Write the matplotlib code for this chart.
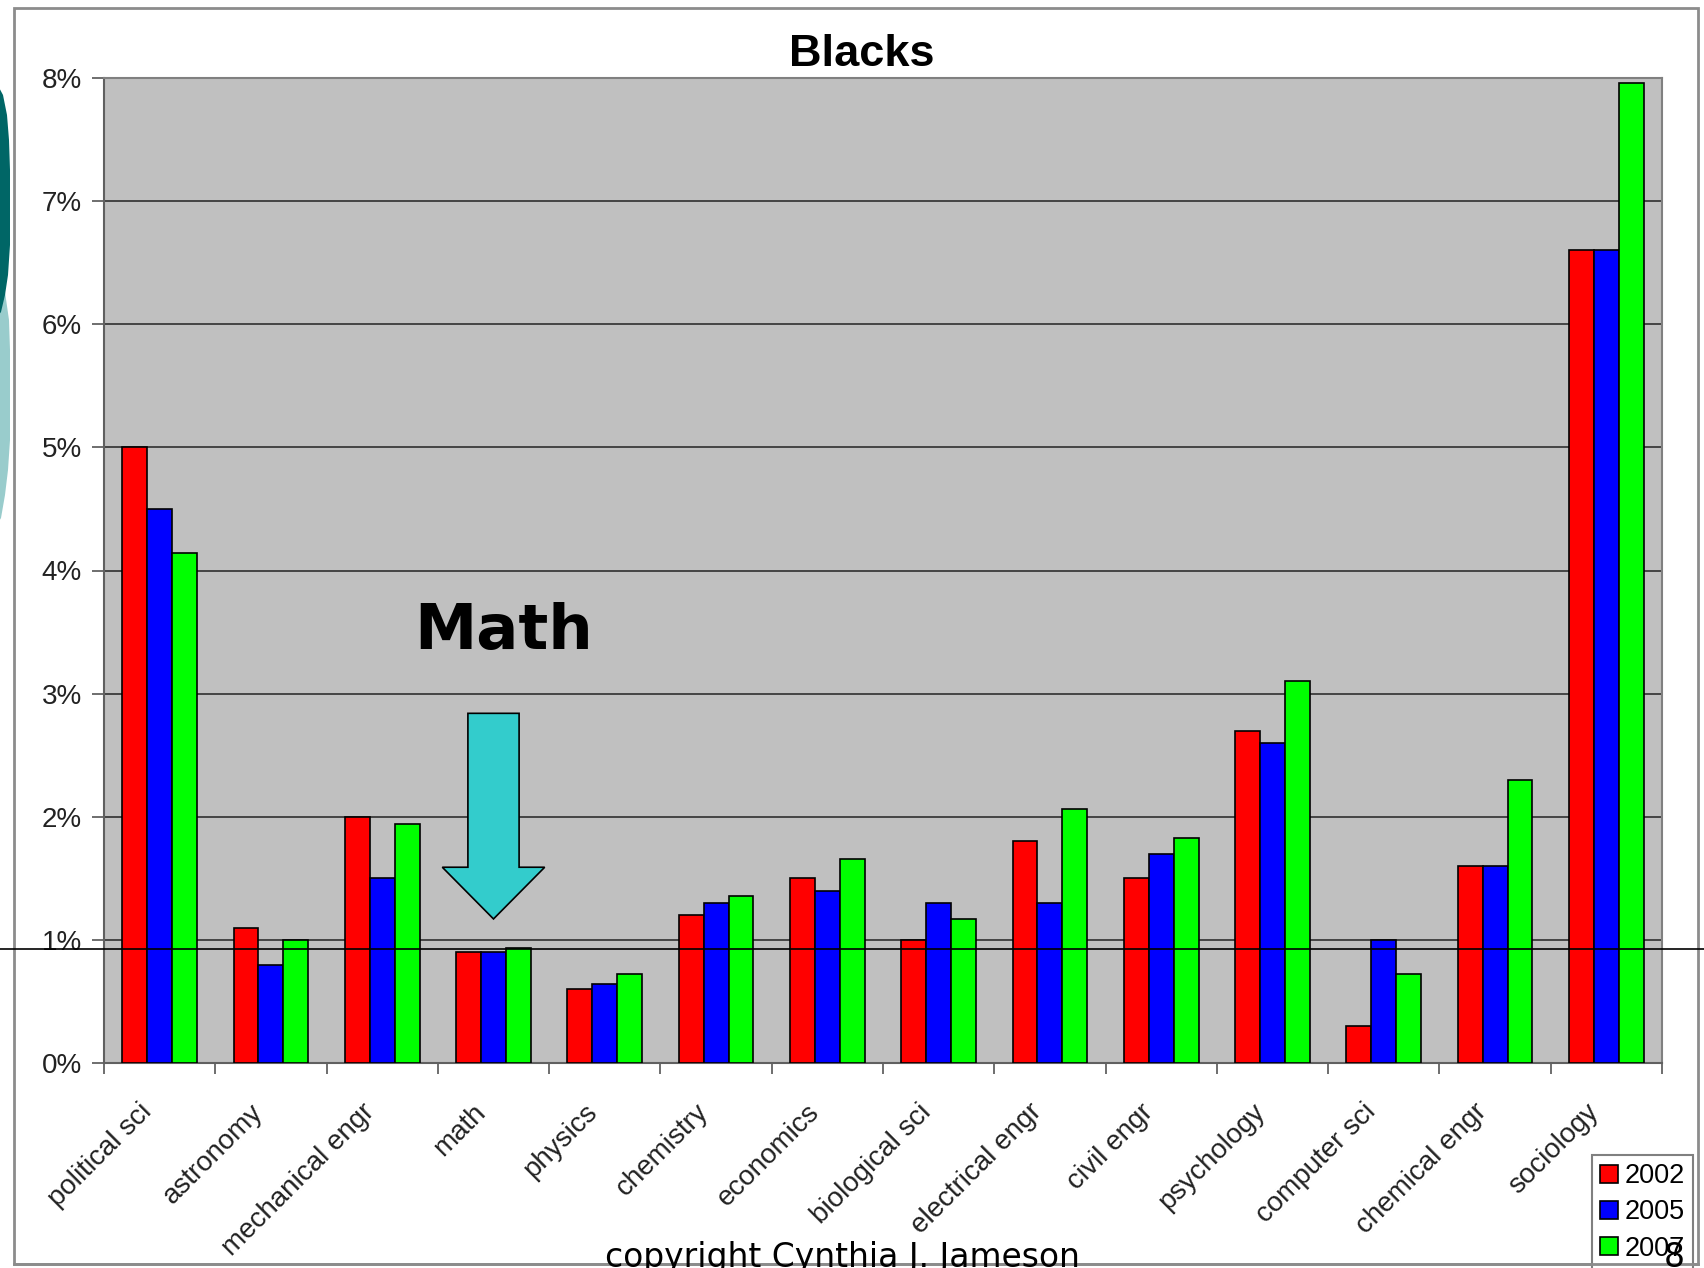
import numpy as np
import matplotlib
matplotlib.use('Agg')
import matplotlib.pyplot as plt
from matplotlib.patches import Rectangle, Polygon, Patch
from matplotlib.ticker import FuncFormatter, FixedLocator
from matplotlib.transforms import ScaledTranslation

# 各学科黑人学生比例 (%)
fields = ['political sci', 'astronomy', 'mechanical engr', 'math', 'physics',
          'chemistry', 'economics', 'biological sci', 'electrical engr',
          'civil engr', 'psychology', 'computer sci', 'chemical engr', 'sociology']
years = ['2002', '2005', '2007']
pct_2002 = [5.0, 1.1, 2.0, 0.9, 0.6, 1.2, 1.5, 1.0, 1.8, 1.5, 2.7, 0.3, 1.6, 6.6]
pct_2005 = [4.5, 0.8, 1.5, 0.9, 0.64, 1.3, 1.4, 1.3, 1.3, 1.7, 2.6, 1.0, 1.6, 6.6]
pct_2007 = [4.14, 1.0, 1.94, 0.93, 0.72, 1.36, 1.66, 1.17, 2.06, 1.83, 3.1, 0.72, 2.3, 7.96]
bar_colors = ['#ff0000', '#0000ff', '#00ff00']

W, H = 1704, 1268
plt.rcParams['font.family'] = ['Liberation Sans', 'DejaVu Sans']

fig = plt.figure(figsize=(W / 100, H / 100), dpi=100)

# 背景层: 幻灯片左侧装饰和图表外框
bg = fig.add_axes([0, 0, 1, 1], zorder=0)
bg.set_xlim(0, W)
bg.set_ylim(H, 0)
bg.axis('off')
bg.add_patch(Polygon([(-5, 268), (5, 292), (9, 320), (10, 350), (10, 440), (8, 470),
                      (5, 495), (1, 518), (-5, 528)], color='#99cccc', lw=0))
bg.add_patch(Polygon([(-5, 80), (3, 95), (7, 115), (9, 140), (10, 170), (10, 245),
                      (8, 275), (5, 295), (1, 312), (-5, 320)], color='#006666', lw=0))
bg.add_patch(Rectangle((14, 8), 1684, 1256, facecolor='white',
                       edgecolor='#8c8c8c', lw=2))

# 主图
ax = fig.add_axes([104 / W, 1 - 1063 / H, (1662 - 104) / W, (1063 - 78) / H], zorder=1)
ax.set_facecolor('#c0c0c0')
x = np.arange(len(fields))
bw = 0.224
for i, (vals, c) in enumerate(zip([pct_2002, pct_2005, pct_2007], bar_colors)):
    ax.bar(x + (i - 1) * bw, vals, width=bw, color=c, edgecolor='black',
           linewidth=1.2, label=years[i], zorder=3)

ax.set_xlim(-0.5, len(fields) - 0.5)
ax.set_ylim(0, 8)
ax.yaxis.set_major_locator(FixedLocator(range(0, 9)))
ax.yaxis.set_major_formatter(FuncFormatter(lambda v, p: '%d%%' % v))
ax.grid(axis='y', color='#3a3a3a', linewidth=1.3, zorder=1)
ax.set_axisbelow(True)

# 分类标签放在各组中心, 刻度线放在组与组之间
ax.set_xticks(np.arange(-0.5, len(fields)))
ax.set_xticklabels([])
ax.tick_params(axis='x', length=8, width=1.2, color='#555555')
lbl_off = ax.get_xaxis_transform() + ScaledTranslation(-21 / 100, -36 / 100, fig.dpi_scale_trans)
for i, name in enumerate(fields):
    ax.text(i, 0, name, transform=lbl_off, rotation=45, rotation_mode='anchor',
            ha='right', va='top', fontsize=20, color='#222222', clip_on=False)

ax.tick_params(axis='y', length=9, width=1.2, color='#555555',
               labelsize=20, labelcolor='#222222', pad=7)
for s in ax.spines.values():
    s.set_color('#808080')
    s.set_linewidth(1.5)
ax.spines['left'].set_color('#606060')
ax.spines['bottom'].set_color('#606060')

# Math 标注箭头
ax.add_patch(Polygon([(2.77, 2.84), (3.23, 2.84), (3.23, 1.59), (3.46, 1.59),
                      (3.0, 1.17), (2.54, 1.59), (2.77, 1.59)],
                     closed=True, facecolor='#33cccc', edgecolor='black',
                     lw=1.2, zorder=5))
ax.text(3.09, 3.5, 'Math', fontsize=45, fontweight='bold',
        family='DejaVu Sans', ha='center', va='center', zorder=5)

fig.text(862 / W, 1 - 54 / H, 'Blacks', fontsize=32.5, fontweight='bold',
         ha='center', va='center')

handles = [Patch(facecolor=c, edgecolor='black', lw=1.2) for c in bar_colors]
leg = fig.legend(handles, years, loc='upper left',
                 bbox_to_anchor=(1592 / W, 1 - 1155 / H), bbox_transform=fig.transFigure,
                 fontsize=19.5, frameon=True, fancybox=False, edgecolor='#606060',
                 handlelength=0.65, handleheight=0.65, handletextpad=0.25,
                 labelspacing=0.38, borderpad=0.3, borderaxespad=0)
leg.get_frame().set_linewidth(1.5)
leg.set_zorder(6)

# 前景层: 页脚文字和横线
fg = fig.add_axes([0, 0, 1, 1], zorder=7)
fg.set_xlim(0, W)
fg.set_ylim(H, 0)
fg.axis('off')
fg.patch.set_alpha(0)
fg.text(842, 1267, 'copyright Cynthia J. Jameson', family='DejaVu Sans',
        fontsize=23.7, ha='center', va='baseline', clip_on=False)
fg.text(1674, 1267, '8', family='DejaVu Sans', fontsize=23.7,
        ha='center', va='baseline', clip_on=False)
fg.plot([0, W], [949, 949], color='black', lw=1.2)
fg.plot([14, 1698], [1264, 1264], color='#8c8c8c', lw=2)

fig.savefig('out.png', dpi=100)
